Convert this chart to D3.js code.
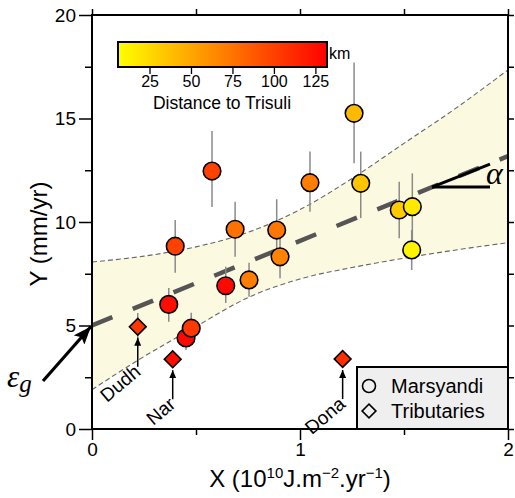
<!DOCTYPE html>
<html><head><meta charset="utf-8">
<script src="https://cdn.jsdelivr.net/npm/d3@7"></script>
<style>
body{margin:0;background:#fff}
svg{display:block}
text{font-family:"Liberation Sans",Arial,Helvetica,sans-serif;fill:#000}
</style>
</head><body><svg id="c" width="515" height="498"></svg>
<script>
// ---- data ----
const marsX    = [0.369, 0.452, 0.477, 0.400, 0.577, 0.643, 0.688, 0.755, 0.888, 0.904, 1.048, 1.260, 1.292, 1.477, 1.540, 1.537];
const marsY    = [6.02, 4.40, 4.87, 8.83, 12.46, 6.92, 9.65, 7.20, 9.61, 8.32, 11.90, 15.25, 11.87, 10.58, 10.74, 8.65];
const marsLo   = [5.18, 3.82, 4.12, 7.55, 10.72, 6.09, 8.32, 6.39, 8.16, 7.28, 10.50, 12.84, 10.19, 9.21, 9.13, 7.68];
const marsHi   = [6.81, 4.98, 5.62, 10.10, 14.40, 7.84, 10.98, 8.03, 11.10, 9.23, 13.40, 17.70, 13.40, 11.95, 12.35, 9.61];
const marsDist = [125, 128, 105, 100, 100, 128, 76, 70, 73, 68, 70, 40, 35, 32, 17, 12];

const tribNames = ["Dudh", "Nar", "Dona"];
const tribX     = [0.220, 0.388, 1.205];
const tribY     = [4.94, 3.37, 3.38];
const tribLo    = [4.30, 3.05, 3.05];
const tribHi    = [5.60, 3.70, 3.70];
const tribDist  = [105, 125, 110];

const fitX = [0, 2];
const fitY = [5.0, 13.18];

const bandX     = [0, 0.25, 0.5, 0.75, 1.0, 1.25, 1.5, 1.75, 2.0];
const bandUpper = [8.07, 8.35, 8.8, 9.5, 10.6, 12.1, 13.8, 15.5, 17.35];
const bandLower = [1.9, 3.5, 4.95, 6.35, 7.25, 7.8, 8.25, 8.65, 9.0];

const xTicks = [0, 1, 2];
const xMinor = [0.5, 1.5];
const yTicks = [0, 5, 10, 15, 20];
const yMinor = [2.5, 7.5, 12.5, 17.5];
const cbDomain = [6, 132];
const cbTicks = [25, 50, 75, 100, 125];

// ---- layout ----
const svg = d3.select("#c");
const x = d3.scaleLinear().domain([0, 2]).range([92, 508]);
const y = d3.scaleLinear().domain([0, 20]).range([429, 15]);
const color = d3.scaleLinear().domain(cbDomain).range(["#ffff00", "#ff0000"]);

const defs = svg.append("defs");
defs.append("clipPath").attr("id", "clip").append("rect")
  .attr("x", 92).attr("y", 15).attr("width", 416).attr("height", 414);

const plot = svg.append("g").attr("clip-path", "url(#clip)");

// confidence band
const bandData = bandX.map((d, i) => ({x: d, lo: bandLower[i], hi: bandUpper[i]}));
plot.append("path").datum(bandData)
  .attr("d", d3.area().x(d => x(d.x)).y0(d => y(d.lo)).y1(d => y(d.hi)).curve(d3.curveMonotoneX))
  .attr("fill", "#fcf9e1");
["hi", "lo"].forEach(k => {
  plot.append("path").datum(bandData)
    .attr("d", d3.line().x(d => x(d.x)).y(d => y(d[k])).curve(d3.curveMonotoneX))
    .attr("fill", "none").attr("stroke", "#666").attr("stroke-width", 1.1)
    .attr("stroke-dasharray", "5,3");
});

// fit line
plot.append("path").datum(fitX.map((d, i) => [d, fitY[i]]))
  .attr("d", d3.line().x(d => x(d[0])).y(d => y(d[1])))
  .attr("stroke", "#555").attr("stroke-width", 4.5).attr("fill", "none")
  .attr("stroke-dasharray", "22,22");

// alpha angle
const ax0 = 432, ay0 = y(fitY[0] + (fitY[1] - fitY[0]) * (x.invert(ax0) / 2));
svg.append("line").attr("x1", ax0).attr("y1", ay0).attr("x2", 490).attr("y2", ay0)
  .attr("stroke", "#000").attr("stroke-width", 3);
svg.append("line").attr("x1", ax0).attr("y1", ay0).attr("x2", 490).attr("y2", ay0 - 23)
  .attr("stroke", "#000").attr("stroke-width", 3);
svg.append("text").attr("x", 486).attr("y", 184)
  .style("font-family", "'Liberation Serif','Times New Roman',serif").style("font-style", "italic")
  .style("font-size", "32px").text("α");

// error bars
const eb = svg.append("g").attr("stroke", "#8a8a8a").attr("stroke-width", 1.5);
marsX.forEach((d, i) => eb.append("line").attr("x1", x(d)).attr("x2", x(d)).attr("y1", y(marsLo[i])).attr("y2", y(marsHi[i])));
tribX.forEach((d, i) => eb.append("line").attr("x1", x(d)).attr("x2", x(d)).attr("y1", y(tribLo[i])).attr("y2", y(tribHi[i])));

// points
svg.append("g").selectAll("circle").data(marsX).join("circle")
  .attr("cx", d => x(d)).attr("cy", (d, i) => y(marsY[i])).attr("r", 8.8)
  .attr("fill", (d, i) => color(marsDist[i])).attr("stroke", "#000").attr("stroke-width", 1.6);
svg.append("g").selectAll("path").data(tribX).join("path")
  .attr("transform", (d, i) => `translate(${x(d)},${y(tribY[i])}) rotate(45)`)
  .attr("d", d3.symbol().type(d3.symbolSquare).size(140))
  .attr("fill", (d, i) => color(tribDist[i])).attr("stroke", "#000").attr("stroke-width", 1.6);

// tributary labels & arrows
defs.append("marker").attr("id", "ah").attr("viewBox", "0 0 10 10").attr("refX", 10).attr("refY", 5)
  .attr("markerWidth", 8).attr("markerHeight", 7).attr("orient", "auto").attr("markerUnits", "userSpaceOnUse")
  .attr("preserveAspectRatio", "none")
  .append("path").attr("d", "M0,0L10,5L0,10z").attr("fill", "#000");
tribX.forEach((d, i) => {
  const px = x(d), py = y(tribY[i]);
  svg.append("line").attr("x1", px).attr("x2", px).attr("y1", py + 40).attr("y2", py + 11)
    .attr("stroke", "#000").attr("stroke-width", 1.5).attr("marker-end", "url(#ah)");
  svg.append("text").attr("transform", `translate(${px + 4},${py + 47}) rotate(-40)`)
    .attr("text-anchor", "end").style("font-size", "19px").text(tribNames[i]);
});

// frame
svg.append("rect").attr("x", 92).attr("y", 15).attr("width", 416).attr("height", 414)
  .attr("fill", "none").attr("stroke", "#000").attr("stroke-width", 2);

// axes
function styleAxis(g) {
  g.select(".domain").remove();
  g.selectAll(".tick line").attr("stroke", "#000").attr("stroke-width", 1.5);
  g.selectAll("text").style("font-size", "19px").style("font-family", "'Liberation Sans',Arial,sans-serif");
}
svg.append("g").attr("transform", "translate(92,0)")
  .call(d3.axisLeft(y).tickValues(yTicks).tickSize(13).tickPadding(3).tickFormat(d3.format("d"))).call(styleAxis);
svg.append("g").attr("transform", "translate(92,0)")
  .call(d3.axisLeft(y).tickValues(yMinor).tickSize(7).tickFormat("")).call(styleAxis);
svg.append("g").attr("transform", "translate(0,429)")
  .call(d3.axisBottom(x).tickValues(xTicks).tickSize(11).tickPadding(3).tickFormat(d3.format("d"))).call(styleAxis);
svg.append("g").attr("transform", "translate(0,429)")
  .call(d3.axisBottom(x).tickValues(xMinor).tickSize(6).tickFormat("")).call(styleAxis);
svg.append("g").attr("transform", "translate(508,0)")
  .call(d3.axisRight(y).tickValues(yTicks.concat(yMinor)).tickSize(6).tickFormat("")).call(styleAxis);
svg.append("g").attr("transform", "translate(0,15)")
  .call(d3.axisTop(x).tickValues(xTicks.concat(xMinor)).tickSize(6).tickFormat("")).call(styleAxis);

// axis titles
svg.append("text").attr("transform", "translate(47,234) rotate(-90)").attr("text-anchor", "middle")
  .style("font-size", "24px").text("Y (mm/yr)");
const xt = svg.append("text").attr("x", 300).attr("y", 487).attr("text-anchor", "middle").style("font-size", "24px");
xt.append("tspan").text("X (10");
xt.append("tspan").attr("dy", -9).style("font-size", "15px").text("10");
xt.append("tspan").attr("dy", 9).text("J.m");
xt.append("tspan").attr("dy", -9).style("font-size", "15px").text("−2");
xt.append("tspan").attr("dy", 9).text(".yr");
xt.append("tspan").attr("dy", -9).style("font-size", "15px").text("−1");
xt.append("tspan").attr("dy", 9).text(")");

// epsilon_g arrow
defs.append("marker").attr("id", "ah2").attr("viewBox", "0 0 10 10").attr("refX", 10).attr("refY", 5)
  .attr("markerWidth", 18).attr("markerHeight", 14).attr("orient", "auto").attr("markerUnits", "userSpaceOnUse")
  .attr("preserveAspectRatio", "none")
  .append("path").attr("d", "M0,0L10,5L0,10L2,5z").attr("fill", "#000");
svg.append("line").attr("x1", 43).attr("y1", 381).attr("x2", x(0) - 1).attr("y2", y(fitY[0]) + 1)
  .attr("stroke", "#000").attr("stroke-width", 3.2).attr("marker-end", "url(#ah2)");
const eps = svg.append("text").attr("x", 7).attr("y", 387)
  .style("font-family", "'Liberation Serif','Times New Roman',serif").style("font-style", "italic").style("font-size", "31px");
eps.append("tspan").text("ε");
eps.append("tspan").attr("dy", 5).style("font-size", "25px").text("g");

// colorbar
const cb = d3.scaleLinear().domain(cbDomain).range([118, 327]);
const grad = defs.append("linearGradient").attr("id", "cbg").attr("x1", "0%").attr("x2", "100%");
d3.range(0, 1.0001, 0.1).forEach(t => grad.append("stop").attr("offset", (t * 100) + "%")
  .attr("stop-color", color(cbDomain[0] + t * (cbDomain[1] - cbDomain[0]))));
svg.append("rect").attr("x", 118).attr("y", 42).attr("width", 209).attr("height", 25)
  .attr("fill", "url(#cbg)").attr("stroke", "#000").attr("stroke-width", 2);
const cbAx = svg.append("g").attr("transform", "translate(0,67)")
  .call(d3.axisBottom(cb).tickValues(cbTicks).tickSize(7).tickPadding(2));
cbAx.select(".domain").remove();
cbAx.selectAll(".tick line").attr("stroke", "#000").attr("stroke-width", 1.3);
cbAx.selectAll("text").style("font-size", "16px").style("font-family", "'Liberation Sans',Arial,sans-serif");
svg.append("text").attr("x", 329).attr("y", 59).style("font-size", "16px").text("km");
svg.append("text").attr("x", 222).attr("y", 109).attr("text-anchor", "middle").style("font-size", "17.5px").text("Distance to Trisuli");

// legend
svg.append("rect").attr("x", 357).attr("y", 367).attr("width", 151).attr("height", 62)
  .attr("fill", "#efefef").attr("stroke", "#000").attr("stroke-width", 2);
svg.append("circle").attr("cx", 369).attr("cy", 386).attr("r", 6.5).attr("fill", "none").attr("stroke", "#000").attr("stroke-width", 1.6);
svg.append("path").attr("transform", "translate(369,411) rotate(45)").attr("d", d3.symbol().type(d3.symbolSquare).size(95))
  .attr("fill", "none").attr("stroke", "#000").attr("stroke-width", 1.6);
svg.append("text").attr("x", 391).attr("y", 393).style("font-size", "20px").text("Marsyandi");
svg.append("text").attr("x", 391).attr("y", 418).style("font-size", "20px").text("Tributaries");
</script>
</body></html>
